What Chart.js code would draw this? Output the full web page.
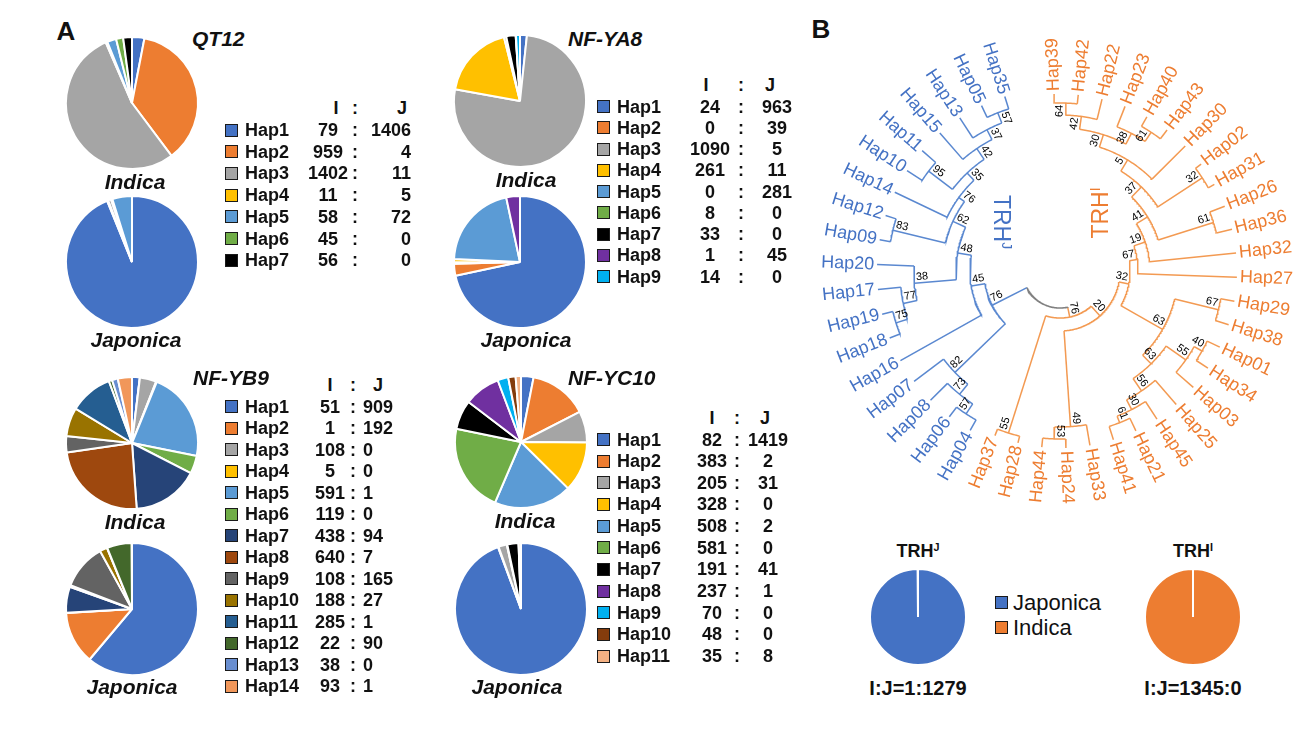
<!DOCTYPE html>
<html>
<head>
<meta charset="utf-8">
<title>Haplotype frequencies and TRH tree</title>
<script src="https://cdn.jsdelivr.net/npm/chart.js@4.4.1/dist/chart.umd.min.js"></script>
<style>
  body { margin: 0; background: #fff; }
  #page { position: relative; width: 1298px; height: 736px; overflow: hidden;
          font-family: Arial, "Liberation Sans", sans-serif; color: #111; }
  .t { position: absolute; white-space: nowrap; line-height: 1; }
  .sq { position: absolute; width: 11px; height: 11px; border: 1px solid #1a1a1a; }
  canvas { position: absolute; }
  sup { font-size: 60%; vertical-align: 0; position: relative; top: -0.55em; }
</style>
</head>
<body>
<div id="page"></div>
<script>
// QT12
var qt12Haps = ['Hap1', 'Hap2', 'Hap3', 'Hap4', 'Hap5', 'Hap6', 'Hap7'];
var qt12Indica = [79, 959, 1402, 11, 58, 45, 56];
var qt12Japonica = [1406, 4, 11, 5, 72, 0, 0];
var qt12Colors = ['#4472C4', '#ED7D31', '#A5A5A5', '#FFC000', '#5B9BD5', '#70AD47', '#000000'];

// NF-YA8
var ya8Haps = ['Hap1', 'Hap2', 'Hap3', 'Hap4', 'Hap5', 'Hap6', 'Hap7', 'Hap8', 'Hap9'];
var ya8Indica = [24, 0, 1090, 261, 0, 8, 33, 1, 14];
var ya8Japonica = [963, 39, 5, 11, 281, 0, 0, 45, 0];
var ya8Colors = ['#4472C4', '#ED7D31', '#A5A5A5', '#FFC000', '#5B9BD5', '#70AD47', '#000000', '#7030A0', '#00B0F0'];

// NF-YB9
var yb9Haps = ['Hap1', 'Hap2', 'Hap3', 'Hap4', 'Hap5', 'Hap6', 'Hap7', 'Hap8', 'Hap9', 'Hap10', 'Hap11', 'Hap12', 'Hap13', 'Hap14'];
var yb9Indica = [51, 1, 108, 5, 591, 119, 438, 640, 108, 188, 285, 22, 38, 93];
var yb9Japonica = [909, 192, 0, 0, 1, 0, 94, 7, 165, 27, 1, 90, 0, 1];
var yb9Colors = ['#4472C4', '#ED7D31', '#A5A5A5', '#FFC000', '#5B9BD5', '#70AD47', '#264478',
                 '#9E480E', '#636363', '#997300', '#255E91', '#43682B', '#698ED0', '#F1975A'];

// NF-YC10
var yc10Haps = ['Hap1', 'Hap2', 'Hap3', 'Hap4', 'Hap5', 'Hap6', 'Hap7', 'Hap8', 'Hap9', 'Hap10', 'Hap11'];
var yc10Indica = [82, 383, 205, 328, 508, 581, 191, 237, 70, 48, 35];
var yc10Japonica = [1419, 2, 31, 0, 2, 0, 41, 1, 0, 0, 8];
var yc10Colors = ['#4472C4', '#ED7D31', '#A5A5A5', '#FFC000', '#5B9BD5', '#70AD47', '#000000',
                  '#7030A0', '#00B0F0', '#843C0C', '#F4B183'];

// TRH groups (panel B)
var trhNames = ['TRH<sup>J</sup>', 'TRH<sup>I</sup>'];
var trhIndica = [1, 1345];
var trhJaponica = [1279, 0];
var groupNames = ['Japonica', 'Indica'];
var groupColors = ['#4472C4', '#ED7D31'];

// tree: newick, label after ')' = bootstrap, ':' = radial position of the node
var treeBlue = '(((((((((Hap35,Hap05)57:170,Hap13)37:159,Hap15)42:148,(Hap11,Hap10)95:165)35:135,Hap14)76:125,' +
  '(Hap12,Hap09)83:172)62:118,(Hap20,(Hap17,(Hap19,Hap18)75:172)77:160)38:146)48:104,Hap16)45:90,' +
  '(Hap07,(Hap08,(Hap06,Hap04)57:171)73:159)82:146)76:76';
var treeOrangeLow = '(((((Hap41,Hap21)61:163,Hap45)30:156,Hap25)56:145,(Hap03,(Hap34,Hap01)40:163)55:154)63:130,' +
  '(Hap38,Hap29)67:163)63:118';
var treeOrangeHigh = '(Hap27,(Hap32,((Hap36,Hap26)61:161,((Hap31,Hap02)32:170,(Hap30,(((Hap43,Hap40)61:166,Hap23)38:155,' +
  '(Hap22,(Hap42,Hap39)64:168)42:156)30:143)5:130)37:117)41:103)19:90)67:78';
var treeOrange = '((Hap37,Hap28)55:170,(((Hap44,Hap24)53:168,Hap33)49:156,(' + treeOrangeLow + ',' +
  treeOrangeHigh + ')32:70)20:60)76:47';
var tipRadius = [183, 177];
var rootRadius = 37;

var page = document.getElementById('page');

function addText(html, x, y, style, align, extra) {
  var d = document.createElement('div');
  d.className = 't';
  d.innerHTML = html;
  d.style.cssText = 'left:' + x + 'px;top:' + y + 'px;' + style;
  var tx = align === 'l' ? '0' : (align === 'r' ? '-100%' : '-50%');
  d.style.transform = 'translate(' + tx + ',-50%)' + (extra || '');
  page.appendChild(d);
  return d;
}

function addSquare(x, y, color) {
  var s = document.createElement('div');
  s.className = 'sq';
  s.style.left = x + 'px';
  s.style.top = y + 'px';
  s.style.background = color;
  page.appendChild(s);
}

function addPie(cx, cy, r, labels, values, colors) {
  var c = document.createElement('canvas');
  var size = 2 * r + 8;
  c.width = size;
  c.height = size;
  c.style.left = (cx - size / 2) + 'px';
  c.style.top = (cy - size / 2) + 'px';
  page.appendChild(c);
  new Chart(c, {
    type: 'pie',
    data: {
      labels: labels,
      datasets: [{
        data: values,
        backgroundColor: colors,
        borderColor: '#ffffff',
        borderWidth: 2,
        hoverOffset: 0,
        radius: r
      }]
    },
    options: {
      responsive: false,
      animation: false,
      events: [],
      plugins: { legend: { display: false }, tooltip: { enabled: false } }
    }
  });
}

var F18 = 'font-size:18px;font-weight:bold;';
var FIT = 'font-size:21px;font-weight:bold;font-style:italic;';

function addTable(haps, ind, jap, colors, L) {
  addText('I', L.iHead, L.headY, F18, 'c');
  addText(':', L.cX, L.headY, F18, 'c');
  addText('J', L.jHead, L.headY, F18, 'c');
  haps.forEach(function (h, k) {
    var y = L.y0 + k * L.dy;
    addSquare(L.sqX, y - 6.5, colors[k]);
    addText(h, L.hapX, y, F18, 'l');
    addText(String(ind[k]), L.iX, y, F18, 'c');
    addText(':', L.cX, y, F18, 'c');
    addText(String(jap[k]), L.jX, y, F18, L.jAlign);
  });
}

function addGene(name, haps, ind, jap, colors, P) {
  addText(name, P.titleX, P.titleY, FIT, 'l');
  addPie(P.pieX, P.indY, 66, haps, ind, colors);
  addPie(P.pieX, P.japY, 66, haps, jap, colors);
  addText('Indica', P.indLabX, P.indY + 78, FIT, 'c');
  addText('Japonica', P.japLabX, P.japY + 77, FIT, 'c');
  addTable(haps, ind, jap, colors, P.table);
}

// panel letters
addText('A', 66, 31, 'font-size:26px;font-weight:bold;', 'c');
addText('B', 821, 29, 'font-size:26px;font-weight:bold;', 'c');

addGene('QT12', qt12Haps, qt12Indica, qt12Japonica, qt12Colors, {
  titleX: 192, titleY: 38, pieX: 132, indY: 103, japY: 262, indLabX: 135, japLabX: 136,
  table: { sqX: 225, hapX: 245, iHead: 336, iX: 328, cX: 355, jHead: 402, jX: 411, jAlign: 'r', headY: 108, y0: 130, dy: 21.7 }
});
addGene('NF-YA8', ya8Haps, ya8Indica, ya8Japonica, ya8Colors, {
  titleX: 568, titleY: 38, pieX: 520, indY: 101, japY: 262, indLabX: 526, japLabX: 526,
  table: { sqX: 597, hapX: 617, iHead: 706, iX: 710, cX: 741, jHead: 770, jX: 777, jAlign: 'c', headY: 85, y0: 106.7, dy: 21.25 }
});
addGene('NF-YB9', yb9Haps, yb9Indica, yb9Japonica, yb9Colors, {
  titleX: 193, titleY: 377, pieX: 132, indY: 443, japY: 609, indLabX: 135, japLabX: 132,
  table: { sqX: 225, hapX: 245, iHead: 330, iX: 330, cX: 353, jHead: 378, jX: 363, jAlign: 'l', headY: 385, y0: 406.7, dy: 21.5 }
});
addGene('NF-YC10', yc10Haps, yc10Indica, yc10Japonica, yc10Colors, {
  titleX: 568, titleY: 377, pieX: 521, indY: 442, japY: 609, indLabX: 525, japLabX: 517,
  table: { sqX: 597, hapX: 617, iHead: 712, iX: 712, cX: 737, jHead: 765, jX: 768, jAlign: 'c', headY: 418, y0: 439.5, dy: 21.65 }
});

// panel B pies
var trhX = [918, 1193];
trhNames.forEach(function (n, k) {
  addText(n, trhX[k], 551, 'font-size:18px;font-weight:bold;', 'c');
  addPie(trhX[k], 617, 48, groupNames, [trhJaponica[k], trhIndica[k]], groupColors);
  addText('I:J=' + trhIndica[k] + ':' + trhJaponica[k], trhX[k], 688, 'font-size:20px;font-weight:bold;', 'c');
});
groupNames.forEach(function (g, k) {
  addSquare(995, 596 + k * 24.5, groupColors[k]);
  addText(g, 1013, 603 + k * 24.5, 'font-size:22px;', 'l');
});

// ---- tree ----
function parseNewick(s) {
  var pos = 0;
  function node() {
    var n = { children: [] };
    if (s[pos] === '(') {
      pos++;
      n.children.push(node());
      while (s[pos] === ',') { pos++; n.children.push(node()); }
      pos++;
    }
    var m = /^[^,():]*/.exec(s.slice(pos))[0];
    n.label = m;
    pos += m.length;
    if (s[pos] === ':') {
      pos++;
      var v = /^[0-9.]+/.exec(s.slice(pos))[0];
      n.r = parseFloat(v);
      pos += v.length;
    }
    return n;
  }
  return node();
}

var DEG = Math.PI / 180;
var tipSlots = 46;
var tipStep = 360 / tipSlots * DEG;
var tipStart = Math.PI - 9 * tipStep - 2 * DEG;
var tipCount = 0;

function layout(n, tipR) {
  if (!n.children.length) {
    n.a = tipStart + tipCount * tipStep;
    n.r = tipR;
    tipCount++;
    return;
  }
  n.children.forEach(function (c) { layout(c, tipR); });
  n.a = (n.children[0].a + n.children[n.children.length - 1].a) / 2;
}

function pol(r, a) { return { x: r * Math.cos(a), y: r * Math.sin(a) }; }
function arcPts(r, a0, a1) {
  var pts = [], k, steps = Math.max(2, Math.ceil(Math.abs(a1 - a0) / 0.01));
  for (k = 0; k <= steps; k++) pts.push(pol(r, a0 + (a1 - a0) * k / steps));
  return pts;
}

var segs = [], tips = [], boots = [];
function collect(n, color, textColor) {
  if (!n.children.length) { tips.push({ text: n.label, r: n.r, a: n.a, color: textColor }); return; }
  var last = n.children[n.children.length - 1];
  segs.push({ color: color, pts: arcPts(n.r, n.children[0].a, last.a) });
  n.children.forEach(function (c) {
    segs.push({ color: color, pts: [pol(n.r, c.a), pol(c.r, c.a)] });
    collect(c, color, textColor);
  });
  boots.push({ text: n.label, r: n.r, a: n.a });
}

var blue = parseNewick(treeBlue);
var orange = parseNewick(treeOrange);
layout(blue, tipRadius[0]);
layout(orange, tipRadius[1]);
collect(blue, '#5A88D0', '#4472C4');
collect(orange, '#F39A52', '#ED7D31');
segs.push({ color: '#808080', pts: arcPts(rootRadius, blue.a, orange.a) });
segs.push({ color: '#5A88D0', pts: [pol(rootRadius, blue.a), pol(blue.r, blue.a)] });
segs.push({ color: '#F39A52', pts: [pol(rootRadius, orange.a), pol(orange.r, orange.a)] });

var treeLabels = {
  id: 'treeLabels',
  afterDatasetsDraw: function (chart) {
    var ctx = chart.ctx, sx = chart.scales.x, sy = chart.scales.y;
    function put(text, r, a, font, color, gap, lift) {
      var flip = Math.cos(a) < -0.1;
      ctx.save();
      ctx.translate(sx.getPixelForValue(r * Math.cos(a)), sy.getPixelForValue(r * Math.sin(a)));
      ctx.rotate(flip ? Math.PI - a : -a);
      ctx.font = font;
      ctx.fillStyle = color;
      ctx.textBaseline = 'middle';
      if (gap > 0) ctx.textAlign = flip ? 'right' : 'left';
      else ctx.textAlign = flip ? 'left' : 'right';
      ctx.fillText(text, flip ? -gap : gap, lift);
      ctx.restore();
    }
    tips.forEach(function (t) { put(t.text, t.r, t.a, '18px Arial, "Liberation Sans", sans-serif', t.color, 3, 0); });
    boots.forEach(function (b) { put(b.text, b.r, b.a, '11px Arial, "Liberation Sans", sans-serif', '#000', -2, -6); });
  }
};

var treeCanvas = document.createElement('canvas');
treeCanvas.width = 498;
treeCanvas.height = 520;
treeCanvas.style.left = '800px';
treeCanvas.style.top = '20px';
page.appendChild(treeCanvas);

new Chart(treeCanvas, {
  type: 'scatter',
  data: {
    datasets: segs.map(function (s) {
      return { data: s.pts, showLine: true, borderColor: s.color, borderWidth: 1.5,
               pointRadius: 0, pointHoverRadius: 0, fill: false, tension: 0 };
    })
  },
  options: {
    responsive: false,
    animation: false,
    events: [],
    layout: { padding: 0 },
    scales: {
      x: { type: 'linear', display: false, min: -260, max: 238 },
      y: { type: 'linear', display: false, min: -269, max: 251 }
    },
    plugins: { legend: { display: false }, tooltip: { enabled: false } }
  },
  plugins: [treeLabels]
});

// clade names inside the tree
addText('TRH<sup>J</sup>', 1001, 222, 'font-size:23px;color:#4472C4;', 'c', ' rotate(90deg)');
addText('TRH<sup>I</sup>', 1100, 213, 'font-size:23px;color:#ED7D31;', 'c', ' rotate(-90deg)');
</script>
</body>
</html>
